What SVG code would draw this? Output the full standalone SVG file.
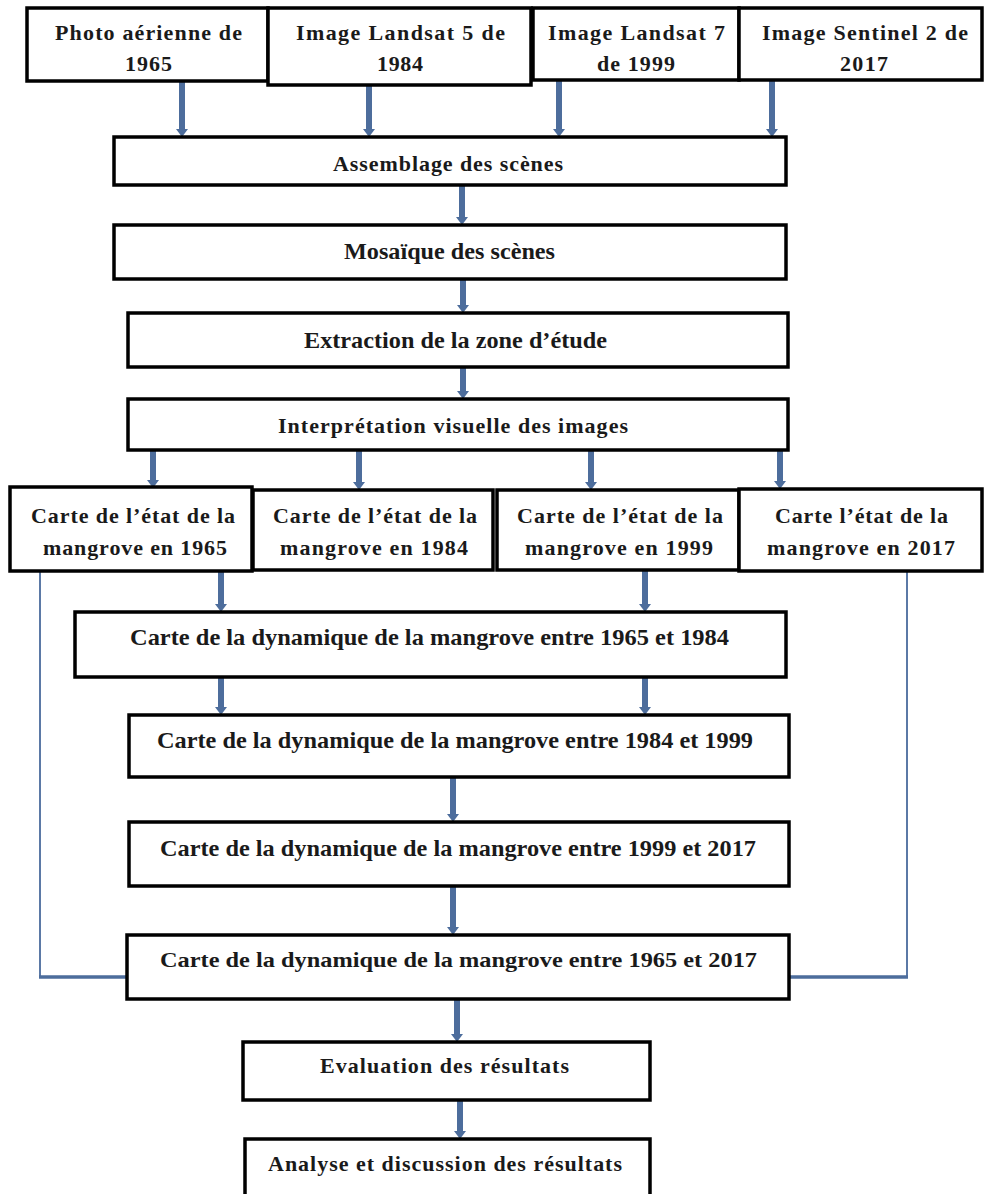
<svg xmlns="http://www.w3.org/2000/svg" width="984" height="1194" viewBox="0 0 984 1194">
<style>
.box{fill:#fff;stroke:#000;stroke-width:3.5}
.t{font-family:"Liberation Serif","Times New Roman",serif;font-weight:bold;font-size:22px;fill:#1a1a1a}
.c{font-size:23px}
.ar{stroke:#4d6d9c;stroke-width:6;fill:none}
.thin{stroke:#5b79a6;stroke-width:2;fill:none}
</style>
<defs>
<marker id="ah" viewBox="0 0 8 12" refX="0" refY="6" markerWidth="8" markerHeight="12" markerUnits="userSpaceOnUse" orient="auto">
<path d="M0,0 L8,6 L0,12 z" fill="#4d6d9c"/>
</marker>
</defs>
<rect width="984" height="1194" fill="#fff"/>

<g id="connectors">
<line class="ar" x1="182" y1="81" x2="182" y2="129" marker-end="url(#ah)"/>
<line class="ar" x1="369" y1="85" x2="369" y2="129" marker-end="url(#ah)"/>
<line class="ar" x1="559" y1="80" x2="559" y2="129" marker-end="url(#ah)"/>
<line class="ar" x1="772" y1="80" x2="772" y2="129" marker-end="url(#ah)"/>
<line class="ar" x1="462" y1="185" x2="462" y2="217" marker-end="url(#ah)"/>
<line class="ar" x1="463" y1="279" x2="463" y2="305" marker-end="url(#ah)"/>
<line class="ar" x1="463" y1="367" x2="463" y2="391" marker-end="url(#ah)"/>
<line class="ar" x1="153" y1="450" x2="153" y2="480" marker-end="url(#ah)"/>
<line class="ar" x1="359" y1="450" x2="359" y2="482" marker-end="url(#ah)"/>
<line class="ar" x1="591" y1="450" x2="591" y2="482" marker-end="url(#ah)"/>
<line class="ar" x1="780" y1="450" x2="780" y2="481" marker-end="url(#ah)"/>
<line class="ar" x1="221" y1="571" x2="221" y2="604" marker-end="url(#ah)"/>
<line class="ar" x1="645" y1="570" x2="645" y2="604" marker-end="url(#ah)"/>
<line class="ar" x1="221" y1="677" x2="221" y2="707" marker-end="url(#ah)"/>
<line class="ar" x1="645" y1="677" x2="645" y2="707" marker-end="url(#ah)"/>
<line class="ar" x1="453" y1="777" x2="453" y2="814" marker-end="url(#ah)"/>
<line class="ar" x1="453" y1="886" x2="453" y2="927" marker-end="url(#ah)"/>
<line class="ar" x1="457" y1="999" x2="457" y2="1034" marker-end="url(#ah)"/>
<line class="ar" x1="460" y1="1100" x2="460" y2="1131" marker-end="url(#ah)"/>
<path class="thin" d="M40,571 V977"/>
<path d="M39,977 H127" stroke="#4d6d9c" stroke-width="3.5" fill="none"/>
<path class="thin" d="M907,571 V977"/>
<path d="M908,977 H789" stroke="#4d6d9c" stroke-width="3.5" fill="none"/>
</g>

<g id="n1"><rect class="box" x="27" y="8" width="241" height="73"/>
<text class="t" x="55" y="40" textLength="187">Photo aérienne de</text>
<text class="t" x="125" y="71" textLength="47">1965</text></g>
<g id="n2"><rect class="box" x="268" y="8" width="263" height="77"/>
<text class="t" x="296" y="40" textLength="209">Image Landsat 5 de</text>
<text class="t" x="377" y="71" textLength="46">1984</text></g>
<g id="n3"><rect class="box" x="533" y="8" width="206" height="72"/>
<text class="t" x="548" y="40" textLength="177">Image Landsat 7</text>
<text class="t" x="597" y="71" textLength="78">de 1999</text></g>
<g id="n4"><rect class="box" x="739" y="8" width="243" height="72"/>
<text class="t" x="762" y="40" textLength="206">Image Sentinel 2 de</text>
<text class="t" x="840" y="71" textLength="48">2017</text></g>

<g id="n5"><rect class="box" x="114" y="137" width="672" height="48"/>
<text class="t" x="333" y="171" textLength="230">Assemblage des scènes</text></g>
<g id="n6"><rect class="box" x="114" y="225" width="672" height="54"/>
<text class="t c" x="344" y="259" textLength="211" lengthAdjust="spacingAndGlyphs">Mosaïque des scènes</text></g>
<g id="n7"><rect class="box" x="128" y="313" width="660" height="54"/>
<text class="t c" x="304" y="348" textLength="303" lengthAdjust="spacingAndGlyphs">Extraction  de la zone d’étude</text></g>
<g id="n8"><rect class="box" x="128" y="399" width="660" height="51"/>
<text class="t" x="278" y="433" textLength="350">Interprétation  visuelle des images</text></g>

<g id="n9"><rect class="box" x="10" y="487" width="242" height="84"/>
<text class="t" x="31" y="523" textLength="204">Carte de l’état de la</text>
<text class="t" x="43" y="555" textLength="184">mangrove en 1965</text></g>
<g id="n10"><rect class="box" x="253" y="490" width="240" height="80"/>
<text class="t" x="273" y="523" textLength="204">Carte de l’état de la</text>
<text class="t" x="280" y="555" textLength="188">mangrove en 1984</text></g>
<g id="n11"><rect class="box" x="497" y="490" width="242" height="80"/>
<text class="t" x="517" y="523" textLength="206">Carte de l’état de la</text>
<text class="t" x="525" y="555" textLength="188">mangrove en 1999</text></g>
<g id="n12"><rect class="box" x="739" y="489" width="243" height="82"/>
<text class="t" x="775" y="523" textLength="173">Carte l’état  de la</text>
<text class="t" x="767" y="555" textLength="188">mangrove en 2017</text></g>

<g id="n13"><rect class="box" x="75" y="612" width="711" height="65"/>
<text class="t c" x="130" y="645" textLength="599" lengthAdjust="spacingAndGlyphs">Carte de la dynamique de la mangrove entre 1965 et 1984</text></g>
<g id="n14"><rect class="box" x="129" y="715" width="660" height="62"/>
<text class="t c" x="157" y="748" textLength="596" lengthAdjust="spacingAndGlyphs">Carte de la dynamique de la mangrove entre 1984 et 1999</text></g>
<g id="n15"><rect class="box" x="129" y="822" width="660" height="64"/>
<text class="t c" x="160" y="856" textLength="596" lengthAdjust="spacingAndGlyphs">Carte de la dynamique de la mangrove entre 1999 et 2017</text></g>
<g id="n16"><rect class="box" x="127" y="935" width="662" height="64"/>
<text class="t" style="font-size:21px" x="160" y="967" textLength="597" lengthAdjust="spacingAndGlyphs">Carte  de la dynamique de la mangrove entre 1965 et 2017</text></g>

<g id="n17"><rect class="box" x="243" y="1042" width="407" height="58"/>
<text class="t" x="320" y="1073" textLength="249">Evaluation des résultats</text></g>
<g id="n18"><rect class="box" x="245" y="1139" width="405" height="70"/>
<text class="t" x="268" y="1171" textLength="354">Analyse et discussion des résultats</text></g>
</svg>
